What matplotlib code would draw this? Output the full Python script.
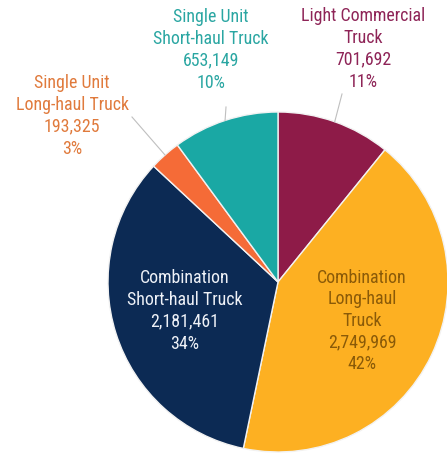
import numpy as np
import matplotlib
matplotlib.use("Agg")
import matplotlib.pyplot as plt
from matplotlib import font_manager
from matplotlib.font_manager import FontProperties
from matplotlib.textpath import TextPath

# Truck categories, clockwise from 12 o'clock
categories = [
    "Light Commercial\nTruck",
    "Combination\nLong-haul\nTruck",
    "Combination\nShort-haul Truck",
    "Single Unit\nLong-haul Truck",
    "Single Unit\nShort-haul Truck",
]
counts = [701692, 2749969, 2181461, 193325, 653149]

slice_colors = ["#8E1B48", "#FDB022", "#0C2A54", "#F56B37", "#1AA8A4"]
label_colors = ["#8E2457", "#8A5A08", "#EEF1F7", "#E07A3C", "#2AA6A2"]


def pick_font():
    """Prefer a narrow sans-serif face for the labels."""
    entries = font_manager.fontManager.ttflist
    names = {f.name for f in entries}
    for nm in ["Liberation Sans Narrow", "Arial Narrow", "Roboto Condensed",
               "Open Sans Condensed"]:
        if nm in names:
            return FontProperties(family=nm)
    for nm in ["Noto Sans", "DejaVu Sans", "Open Sans", "Roboto"]:
        for f in entries:
            if f.name == nm and f.style == "normal" and str(f.stretch) in (
                    "condensed", "semi-condensed", "625", "750"):
                return FontProperties(family=nm, stretch=f.stretch)
    return FontProperties(family="Liberation Sans")


fp = pick_font()
# size the font so that "Short-haul Truck" is about 115 px wide at 100 dpi
probe = TextPath((0, 0), "Short-haul Truck", size=100, prop=fp)
ext = probe.get_extents()
width_per_pt = ext.width / 100 * (100 / 72)   # px per pt of font size
fsize = 115 / width_per_pt
fpx = fsize * 100 / 72
lspacing = 21.3 / (fpx * 0.943)

W, H = 447, 456
fig = plt.figure(figsize=(W / 100, H / 100), dpi=100)
fig.patch.set_facecolor("white")

# pie centre and radius in pixels
cx, cy, R = 278, 283, 170
ax = fig.add_axes([(cx - R) / W, 1 - (cy + R) / H, 2 * R / W, 2 * R / H])

wedges, _ = ax.pie(
    counts, colors=slice_colors, startangle=90, counterclock=False,
    radius=1.0, wedgeprops=dict(edgecolor="#F2F2F2", linewidth=1.0),
)
ax.set_xlim(-1, 1)
ax.set_ylim(-1, 1)
ax.set_aspect("equal")
ax.axis("off")
for w in wedges:
    w.set_clip_on(False)

total = sum(counts)
pcts = [round(100 * c / total) for c in counts]


def px(x, y):
    """pixel position -> data coordinates of the pie axes"""
    return (x - cx) / R, (cy - y) / R


def mid_point(i, r=1.0):
    w = wedges[i]
    ang = np.deg2rad((w.theta1 + w.theta2) / 2)
    return r * np.cos(ang), r * np.sin(ang)


# label anchors (centre of text block) in pixels and leader line start
label_pos = {
    0: (363, 49),
    1: (362, 321),
    2: (185, 311),
    3: (72, 116),
    4: (211, 50),
}
leader_start = {0: (342, 95), 3: (132, 118), 4: (226, 108)}

for i, (name, n, p) in enumerate(zip(categories, counts, pcts)):
    x, y = px(*label_pos[i])
    ax.text(x, y, f"{name}\n{n:,}\n{p}%", ha="center", va="center",
            color=label_colors[i], fontproperties=fp, fontsize=fsize,
            linespacing=lspacing, clip_on=False)
    if i in leader_start:
        sx, sy = px(*leader_start[i])
        ex, ey = mid_point(i, 1.0)
        ax.plot([sx, ex], [sy, ey], color="#BFBFBF", lw=0.8, clip_on=False)

fig.savefig("out.png", dpi=100, facecolor="white")
